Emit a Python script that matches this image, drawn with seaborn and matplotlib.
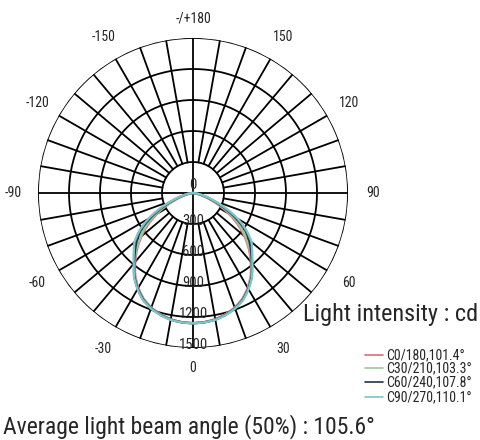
import numpy as np
import pandas as pd
import matplotlib
matplotlib.use('Agg')
import matplotlib.pyplot as plt
from matplotlib import font_manager
from matplotlib.lines import Line2D
import seaborn as sns

sns.set_style('white')
installed = {f.name for f in font_manager.fontManager.ttflist}
narrow = next((f for f in ['Roboto Condensed', 'Liberation Sans Narrow', 'Open Sans Condensed']
               if f in installed), 'Noto Sans CJK SC')
fam = [narrow, 'Noto Sans CJK SC', 'DejaVu Sans']
plt.rcParams['font.family'] = fam

# gamma angle (deg) and luminous intensity (cd) per C plane, both halves symmetric
gamma = [0, 5, 10, 15, 20, 25, 30, 35, 40, 45, 50, 55, 60, 65, 70, 75, 80, 85, 90]
c0_180 = [1260, 1255, 1240, 1215, 1180, 1130, 1060, 975, 870, 765, 650, 530, 400, 270, 160, 85, 40, 12, 0]
c30_210 = [1260, 1255, 1242, 1218, 1183, 1135, 1065, 982, 878, 778, 665, 555, 425, 290, 172, 92, 43, 13, 0]
c60_240 = [1260, 1256, 1244, 1220, 1187, 1140, 1070, 990, 885, 795, 710, 612, 470, 325, 195, 105, 48, 15, 0]
c90_270 = [1260, 1257, 1246, 1223, 1190, 1145, 1075, 995, 892, 810, 740, 632, 500, 350, 210, 112, 52, 16, 0]

planes = ['C0/180,101.4°', 'C30/210,103.3°', 'C60/240,107.8°', 'C90/270,110.1°']
plane_colors = ['#e06a7c', '#9cc89a', '#22334a', '#7fc4c8']

ring_values = [300, 600, 900, 1200, 1500]
angle_ticks = [0, 30, 60, 90, 120, 150, 180, -150, -120, -90, -60, -30]
angle_labels = ['0', '30', '60', '90', '120', '150', '-/+180',
                '-150', '-120', '-90', '-60', '-30']

#%%
# long form table, left half of each plane mirrored
frames = []
for name, vals in zip(planes, [c0_180, c30_210, c60_240, c90_270]):
    g = np.array(gamma)
    v = np.array(vals)
    frames.append(pd.DataFrame({'theta': np.radians(np.r_[-g[::-1], g[1:]]),
                                'cd': np.r_[v[::-1], v[1:]],
                                'plane': name}))
curves = pd.concat(frames, ignore_index=True)

#%%
fig = plt.figure(figsize=(4.8, 4.4), dpi=100)
ax = fig.add_axes([38/480, 92/440, 310/480, 310/440], projection='polar')
ax.set_theta_zero_location('S')
ax.set_theta_direction(1)

# grid drawn by hand: rings + spokes every 10 deg from first ring out
circle = np.linspace(0, 2*np.pi, 361)
for r in ring_values:
    ax.plot(circle, np.full_like(circle, r), color='black', lw=1.3, zorder=1)
for a in range(0, 360, 10):
    r0 = 0 if a % 90 == 0 else ring_values[0]
    ax.plot([np.radians(a)]*2, [r0, ring_values[-1]], color='black', lw=1.3, zorder=1)
n_grid = len(ax.lines)

sns.lineplot(data=curves, x='theta', y='cd', hue='plane', hue_order=planes,
             palette=dict(zip(planes, plane_colors)), lw=1.7, ax=ax, zorder=3,
             legend=False)

ax.set_ylim(0, 1500)
ax.grid(False)
ax.set_xticks([])
ax.set_yticks([])
ax.set_xlabel('')
ax.set_ylabel('')
ax.spines['polar'].set_visible(False)

# let the polar transform bend the curve segments instead of straight chords
for ln in ax.lines[n_grid:]:
    try:
        ln.recache_always()
        ln.get_path()._interpolation_steps = 12
    except Exception:
        pass

ax.text(np.pi, 80, '0', ha='center', va='center', fontsize=10.5, zorder=4)
for r in ring_values:
    ax.text(0, r - 25, str(r), ha='center', va='center', fontsize=10.5, zorder=4)
for a, lab in zip(angle_ticks, angle_labels):
    rr = 1690 if a in (0, 180) else 1740
    ax.text(np.radians(a), rr, lab, ha='center', va='center', fontsize=10, clip_on=False)

# legend, drawn by hand to get the tight row spacing
row_y = [355, 368, 382, 397]
for name, col, y in zip(planes, plane_colors, row_y):
    fig.add_artist(Line2D([365/480, 383/480], [1 - y/440]*2, color=col, lw=1.2))
    fig.text(386/480, 1 - y/440, name, fontsize=10, va='center', ha='left')

fig.text(478/480, 1-321/440, 'Light intensity : cd', fontsize=17.5, va='baseline', ha='right')
fig.text(3/480, 1-433/440, 'Average light beam angle (50%) : 105.6°', fontsize=17,
         va='baseline', ha='left')

fig.savefig('out.png', dpi=100)
